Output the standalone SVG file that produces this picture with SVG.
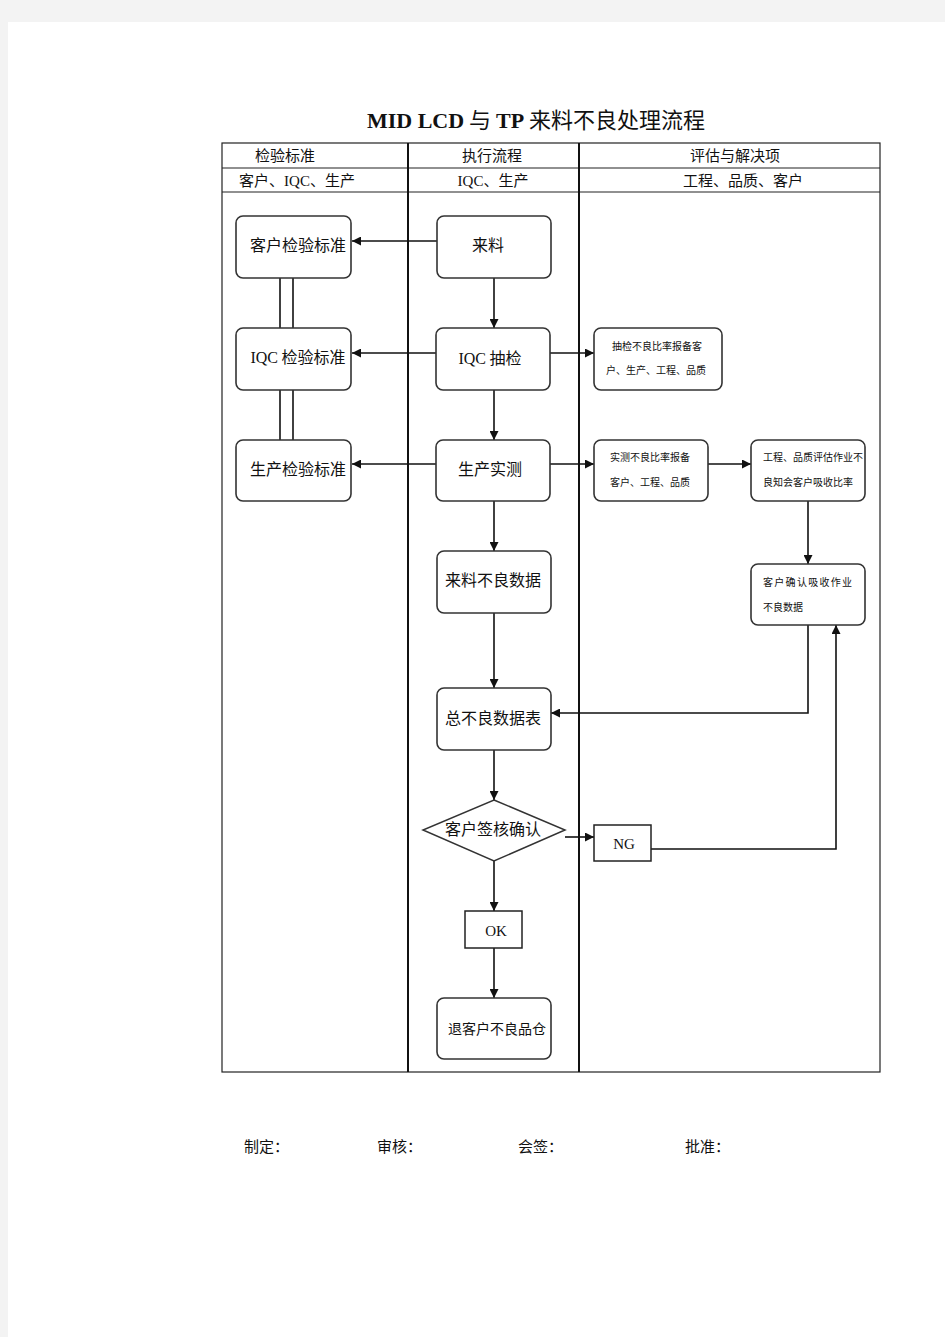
<svg xmlns="http://www.w3.org/2000/svg" width="945" height="1337" viewBox="0 0 945 1337">
<defs>
<style>
.bg{fill:#f3f3f3}
.page{fill:#ffffff}
.tl{stroke:#222;stroke-width:1.2;fill:none}
.div{stroke:#111;stroke-width:2;fill:none}
.box{fill:#fff;stroke:#333;stroke-width:1.6}
.sq{fill:#fff;stroke:#222;stroke-width:1.5}
.c{stroke:#111;stroke-width:1.6;fill:none}
.t{font-family:"Noto Sans CJK SC","Liberation Sans",sans-serif;font-size:16px;fill:#111;text-anchor:middle}
.h{font-family:"Liberation Serif","Noto Sans CJK SC",serif;font-size:15px;fill:#111;text-anchor:middle}
.s{font-family:"Noto Sans CJK SC",sans-serif;font-size:10px;fill:#111}
.f{font-family:"Noto Sans CJK SC",sans-serif;font-size:15px;fill:#111}
.lat{font-family:"Liberation Serif",serif}
</style>
<marker id="ah" viewBox="0 0 10 10" refX="10" refY="5" markerWidth="9" markerHeight="9" orient="auto" markerUnits="userSpaceOnUse">
<path d="M0,0 L10,5 L0,10 z" fill="#111"/>
</marker>
</defs>
<rect class="bg" x="0" y="0" width="945" height="1337"/>
<rect class="page" x="8" y="22" width="937" height="1315"/>

<text x="536" y="128" text-anchor="middle" font-size="22" fill="#111" font-family="Liberation Serif,Noto Sans CJK SC,serif"><tspan font-weight="bold">MID  LCD</tspan><tspan font-family="Noto Sans CJK SC,serif"> 与 </tspan><tspan font-weight="bold">TP</tspan><tspan font-family="Noto Sans CJK SC,serif"> 来料不良处理流程</tspan></text>

<g id="table">
<rect class="tl" x="222" y="143" width="658" height="929"/>
<line class="tl" x1="222" y1="168" x2="880" y2="168"/>
<line class="tl" x1="222" y1="192" x2="880" y2="192"/>
<line class="div" x1="408" y1="143" x2="408" y2="1072"/>
<line class="div" x1="579" y1="143" x2="579" y2="1072"/>
<text class="h" x="285" y="161">检验标准</text>
<text class="h" x="492" y="161">执行流程</text>
<text class="h" x="735" y="161">评估与解决项</text>
<text class="h" x="297" y="186">客户、IQC、生产</text>
<text class="h" x="493" y="186">IQC、生产</text>
<text class="h" x="743" y="186">工程、品质、客户</text>
</g>

<g id="connectors">
<line class="c" x1="437" y1="241" x2="352" y2="241" marker-end="url(#ah)"/>
<line class="c" x1="436" y1="353" x2="352" y2="353" marker-end="url(#ah)"/>
<line class="c" x1="436" y1="464" x2="352" y2="464" marker-end="url(#ah)"/>
<line class="c" x1="280" y1="278" x2="280" y2="328"/>
<line class="c" x1="293" y1="278" x2="293" y2="328"/>
<line class="c" x1="280" y1="390" x2="280" y2="440"/>
<line class="c" x1="293" y1="390" x2="293" y2="440"/>
<line class="c" x1="494" y1="278" x2="494" y2="328" marker-end="url(#ah)"/>
<line class="c" x1="494" y1="390" x2="494" y2="440" marker-end="url(#ah)"/>
<line class="c" x1="494" y1="501" x2="494" y2="551" marker-end="url(#ah)"/>
<line class="c" x1="494" y1="613" x2="494" y2="688" marker-end="url(#ah)"/>
<line class="c" x1="494" y1="750" x2="494" y2="800" marker-end="url(#ah)"/>
<line class="c" x1="494" y1="861" x2="494" y2="911" marker-end="url(#ah)"/>
<line class="c" x1="494" y1="948" x2="494" y2="998" marker-end="url(#ah)"/>
<line class="c" x1="550" y1="353" x2="594" y2="353" marker-end="url(#ah)"/>
<line class="c" x1="550" y1="464" x2="594" y2="464" marker-end="url(#ah)"/>
<line class="c" x1="708" y1="464" x2="751" y2="464" marker-end="url(#ah)"/>
<line class="c" x1="808" y1="501" x2="808" y2="564" marker-end="url(#ah)"/>
<polyline class="c" points="808,625 808,713 551,713" marker-end="url(#ah)"/>
<line class="c" x1="565" y1="837" x2="594" y2="837" marker-end="url(#ah)"/>
<polyline class="c" points="651,849 836,849 836,625" marker-end="url(#ah)"/>
</g>

<g id="n-kehu-std"><rect class="box" x="236" y="216" width="115" height="62" rx="7"/><text class="t" x="298" y="251">客户检验标准</text></g>
<g id="n-iqc-std"><rect class="box" x="236" y="328" width="115" height="62" rx="7"/><text class="t" x="298" y="363"><tspan class="lat">IQC</tspan> 检验标准</text></g>
<g id="n-prod-std"><rect class="box" x="236" y="440" width="115" height="61" rx="7"/><text class="t" x="298" y="475">生产检验标准</text></g>

<g id="n-lailiao"><rect class="box" x="437" y="216" width="114" height="62" rx="7"/><text class="t" x="488" y="251">来料</text></g>
<g id="n-iqc-check"><rect class="box" x="436" y="328" width="114" height="62" rx="7"/><text class="t" x="490" y="364"><tspan class="lat">IQC</tspan> 抽检</text></g>
<g id="n-prod-test"><rect class="box" x="436" y="440" width="114" height="61" rx="7"/><text class="t" x="490" y="475">生产实测</text></g>
<g id="n-bad-data"><rect class="box" x="437" y="551" width="114" height="62" rx="7"/><text class="t" x="493" y="586">来料不良数据</text></g>
<g id="n-total"><rect class="box" x="437" y="688" width="114" height="62" rx="7"/><text class="t" x="493" y="724">总不良数据表</text></g>
<g id="n-confirm"><polygon points="494,800 565,830 494,861 423,830" fill="#fff" stroke="#333" stroke-width="1.5"/><text class="t" x="493" y="835">客户签核确认</text></g>
<g id="n-ok"><rect class="sq" x="465" y="911" width="57" height="37"/><text class="h" x="496" y="936">OK</text></g>
<g id="n-return"><rect class="box" x="437" y="998" width="114" height="61" rx="7"/><text class="t" x="497" y="1034" style="font-size:14px">退客户不良品仓</text></g>
<g id="n-ng"><rect class="sq" x="594" y="825" width="57" height="36"/><text class="h" x="624" y="849">NG</text></g>

<g id="n-sample-report"><rect class="box" x="594" y="328" width="128" height="62" rx="7"/><text class="s" x="612" y="350">抽检不良比率报备客</text><text class="s" x="606" y="374">户、生产、工程、品质</text></g>
<g id="n-test-report"><rect class="box" x="594" y="440" width="114" height="61" rx="7"/><text class="s" x="610" y="461">实测不良比率报备</text><text class="s" x="610" y="486">客户、工程、品质</text></g>
<g id="n-eval"><rect class="box" x="751" y="440" width="114" height="61" rx="7"/><text class="s" x="763" y="461">工程、品质评估作业不</text><text class="s" x="763" y="486">良知会客户吸收比率</text></g>
<g id="n-cust-confirm"><rect class="box" x="751" y="564" width="114" height="61" rx="7"/><text class="s" x="763" y="586" letter-spacing="1.3">客户确认吸收作业</text><text class="s" x="763" y="611">不良数据</text></g>

<g id="footer">
<text class="f" x="244" y="1152">制定：</text>
<text class="f" x="377" y="1152">审核：</text>
<text class="f" x="518" y="1152">会签：</text>
<text class="f" x="685" y="1152">批准：</text>
</g>
</svg>
